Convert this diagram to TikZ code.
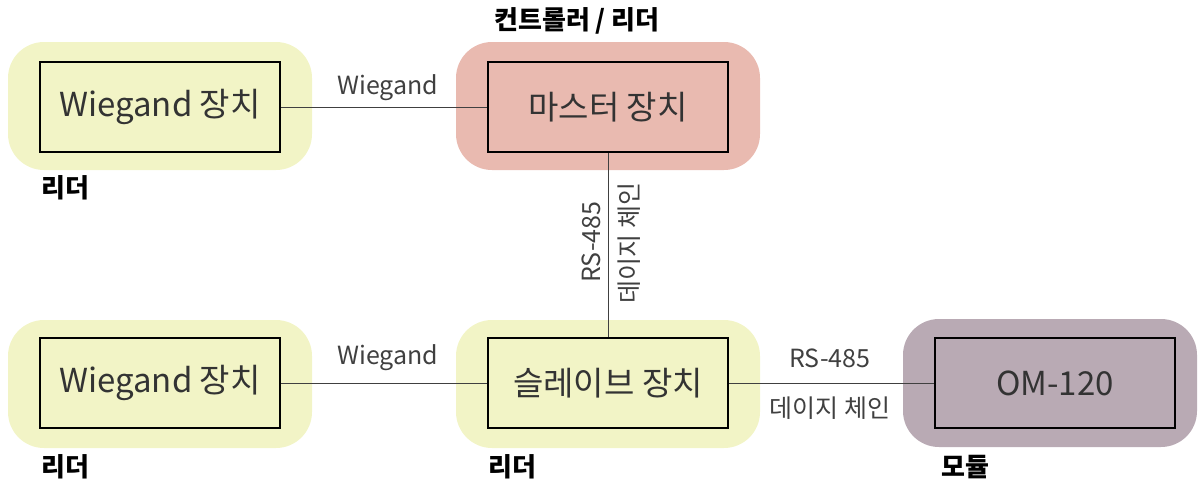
\documentclass[tikz,border=0pt]{standalone}
\usepackage{fontspec}
\setmainfont{Noto Sans CJK KR}
\usepackage{tikz}
\usetikzlibrary{positioning}

\definecolor{readercol}{HTML}{F2F4C6}
\definecolor{mastercol}{HTML}{E9BAB0}
\definecolor{modcol}{HTML}{B9AAB4}

\begin{document}
\begin{tikzpicture}[x=1pt,y=-1pt,
		group/.style={rounded corners=36pt,minimum width=304pt,minimum height=128pt,inner sep=0pt},
		device/.style={draw,line width=2.4pt,minimum width=240pt,minimum height=90pt,inner sep=0pt,font=\fontsize{33}{35}\selectfont,text=black!80},
		role/.style={font=\fontsize{26}{28}\selectfont\bfseries,inner sep=0pt},
		bus/.style={font=\fontsize{25}{27}\selectfont,text=black!75,inner sep=0pt},
		wire/.style={draw=black!75,line width=1pt}]
		\useasboundingbox (0,0) rectangle (1202,488);
		
		% groups behind the devices
		\node[group,fill=readercol](gA) at (160,106){};
		\node[group,fill=mastercol](gM) at (608,106){};
		\node[group,fill=readercol](gB) at (160,384){};
		\node[group,fill=readercol](gS) at (608,384){};
		\node[group,fill=modcol,minimum width=294pt](gO) at (1050,383){};
		
		% devices
		\node[device,fill=readercol](wA) at (160,107){Wiegand 장치};
		\node[device,fill=mastercol](master) at (608,107){마스터 장치};
		\node[device,fill=readercol](wB) at (160,383){Wiegand 장치};
		\node[device,fill=readercol](slave) at (608,383){슬레이브 장치};
		\node[device,fill=modcol](om) at (1055,383){OM-120};
		
		% roles
		\node[role](rA) at (65,188){리더};
		\node[role](rM) at (577,21){컨트롤러 / 리더};
		\node[role](rB) at (65,467){리더};
		\node[role](rS) at (512,467){리더};
		\node[role](rO) at (965,467){모듈};
		
		\draw[wire]
		(wA)--(master)
		(wB)--(slave)
		(master)--(slave)
		(slave)--(om);
		
		\node[bus](lA) at (388,88){Wiegand};
		\node[bus](lB) at (388,358){Wiegand};
		\node[bus,rotate=90](lV1) at (591,242){RS-485};
		\node[bus,rotate=90](lV2) at (629,243){데이지 체인};
		\node[bus](lH1) at (830,358){RS-485};
		\node[bus](lH2) at (830,408){데이지 체인};
\end{tikzpicture}
\end{document}
